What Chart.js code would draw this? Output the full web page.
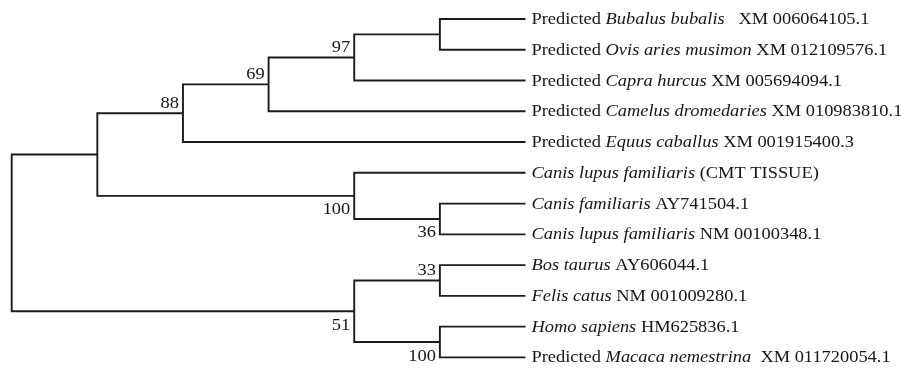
<!DOCTYPE html>
<html>
<head>
<meta charset="utf-8">
<script src="https://cdn.jsdelivr.net/npm/chart.js@4.4.1/dist/chart.umd.min.js"></script>
<style>
  html, body { margin: 0; padding: 0; background: #ffffff; }
  #wrap { position: relative; width: 901px; height: 368px; }
</style>
</head>
<body>
<div id="wrap"><canvas id="tree"></canvas></div>
<script>
// Leaf labels, top to bottom; *...* marks the italic species name.
const leafLabels = [
  "Predicted *Bubalus bubalis*   XM 006064105.1",
  "Predicted *Ovis aries musimon* XM 012109576.1",
  "Predicted *Capra hurcus* XM 005694094.1",
  "Predicted *Camelus dromedaries* XM 010983810.1",
  "Predicted *Equus caballus* XM 001915400.3",
  "*Canis lupus familiaris* (CMT TISSUE)",
  "*Canis familiaris* AY741504.1",
  "*Canis lupus familiaris* NM 00100348.1",
  "*Bos taurus* AY606044.1",
  "*Felis catus* NM 001009280.1",
  "*Homo sapiens* HM625836.1",
  "Predicted *Macaca nemestrina*  XM 011720054.1"
];

// Internal nodes (ids 12..22): child ids, depth level and bootstrap support.
const nodeChildren = [[0, 1], [12, 2], [13, 3], [14, 4], [6, 7], [5, 16], [15, 17], [8, 9], [10, 11], [19, 20], [18, 21]];
const nodeDepth    = [5, 4, 3, 2, 5, 4, 1, 5, 5, 4, 0];
const bootstrap    = [null, 97, 69, 88, 36, 100, null, 33, 100, 51, null];
const leafDepth = 6;

// Node coordinates in tree units: x = depth, y = leaf order (internal = midpoint of children).
const nLeaves = leafLabels.length;
const nodeX = [], nodeY = [], parentOf = [];
for (let i = 0; i < nLeaves; i++) { nodeX[i] = leafDepth; nodeY[i] = i; }
nodeChildren.forEach((ch, k) => {
  const id = nLeaves + k;
  nodeX[id] = nodeDepth[k];
  nodeY[id] = (nodeY[ch[0]] + nodeY[ch[1]]) / 2;
  parentOf[ch[0]] = { id, top: true };
  parentOf[ch[1]] = { id, top: false };
});

// One bracket per internal node: upper child -> node -> lower child.
const datasets = nodeChildren.map((ch, k) => {
  const id = nLeaves + k;
  return {
    data: [
      { x: nodeX[ch[0]], y: nodeY[ch[0]] },
      { x: nodeX[id],    y: nodeY[ch[0]] },
      { x: nodeX[id],    y: nodeY[ch[1]] },
      { x: nodeX[ch[1]], y: nodeY[ch[1]] }
    ],
    showLine: true,
    borderColor: '#1c1c1c',
    borderWidth: 1.9,
    borderJoinStyle: 'miter',
    borderCapStyle: 'butt',
    pointRadius: 0,
    tension: 0,
    fill: false,
    clip: false
  };
});

const SERIF = "'Liberation Serif', 'Times New Roman', serif";
const FONT_PX = 16;
const STRETCH = 1.15;

function drawRich(ctx, text, x, y) {
  const parts = text.split('*');
  ctx.save();
  ctx.translate(x, y);
  ctx.scale(STRETCH, 1);
  let cx = 0;
  parts.forEach((p, i) => {
    if (!p) return;
    ctx.font = (i % 2 ? 'italic ' : '') + FONT_PX + 'px ' + SERIF;
    ctx.fillText(p, cx, 0);
    cx += ctx.measureText(p).width;
  });
  ctx.restore();
}

const treeLabels = {
  id: 'treeLabels',
  afterDatasetsDraw(chart) {
    const { ctx, scales: { x, y } } = chart;
    ctx.save();
    ctx.fillStyle = '#161616';
    ctx.textBaseline = 'alphabetic';
    ctx.textAlign = 'left';
    // leaf names
    leafLabels.forEach((lbl, i) => {
      drawRich(ctx, lbl, x.getPixelForValue(leafDepth) + 6, y.getPixelForValue(i) + 5);
    });
    // bootstrap values, left of each node, above or below its incoming branch
    ctx.font = FONT_PX + 'px ' + SERIF;
    bootstrap.forEach((b, k) => {
      if (b === null) return;
      const id = nLeaves + k;
      const px = x.getPixelForValue(nodeX[id]);
      const py = y.getPixelForValue(nodeY[id]);
      const s = String(b);
      const w = ctx.measureText(s).width * STRETCH;
      const by = parentOf[id].top ? py - 5.4 : py + 18.5;
      ctx.save();
      ctx.translate(px - 4 - w, by);
      ctx.scale(STRETCH, 1);
      ctx.fillText(s, 0, 0);
      ctx.restore();
    });
    ctx.restore();
  }
};

new Chart(document.getElementById('tree'), {
  type: 'scatter',
  data: { datasets },
  options: {
    responsive: true,
    maintainAspectRatio: false,
    animation: false,
    layout: { padding: { left: 11.7, right: 375.5, top: 19, bottom: 10.6 } },
    scales: {
      x: { type: 'linear', min: 0, max: leafDepth, display: false },
      y: { type: 'linear', min: 0, max: nLeaves - 1, reverse: true, display: false }
    },
    plugins: { legend: { display: false }, tooltip: { enabled: false } }
  },
  plugins: [treeLabels]
});
</script>
</body>
</html>
